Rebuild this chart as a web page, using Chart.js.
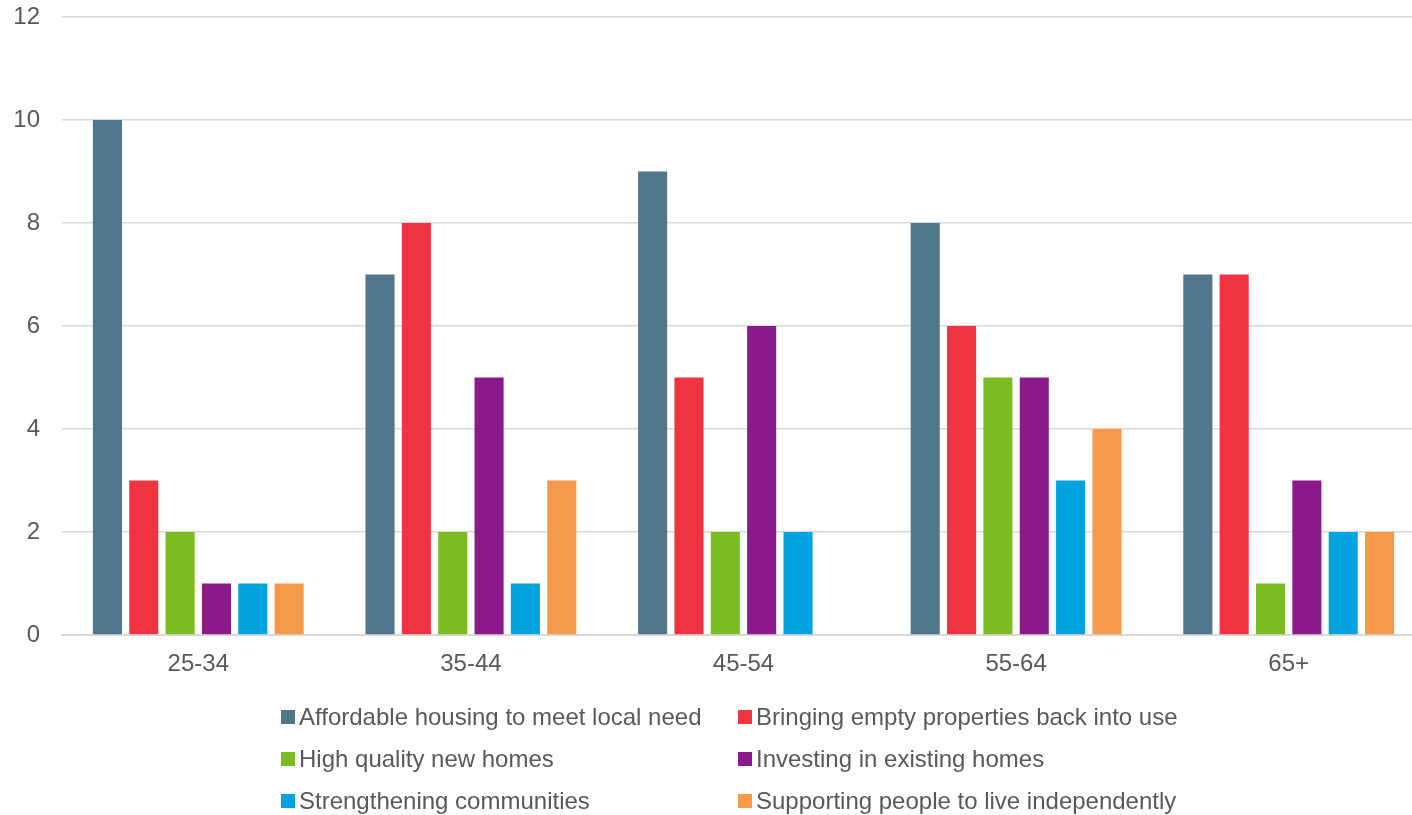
<!DOCTYPE html>
<html>
<head>
<meta charset="utf-8">
<script src="https://cdn.jsdelivr.net/npm/chart.js@4"></script>
<style>
  html, body { margin: 0; padding: 0; background: #ffffff; overflow: hidden; }
  #wrap { position: relative; width: 1412px; height: 815px; overflow: hidden; }
  #chart { position: absolute; left: 0; top: 0; }
  #legend { position: absolute; left: 0; top: 0; width: 1412px; height: 815px; pointer-events: none;
            font-family: "Liberation Sans", Arial, sans-serif; font-size: 24px; color: #595959; }
  .item { position: absolute; display: flex; align-items: center; white-space: nowrap; height: 30px; }
  .box { width: 14px; height: 14px; margin-right: 4px; }
</style>
</head>
<body>
<div id="wrap">
  <canvas id="chart" width="1425" height="815"></canvas>
  <div id="legend"></div>
</div>
<script>
const categories = ["25-34", "35-44", "45-54", "55-64", "65+"];
const seriesNames = [
  "Affordable housing to meet local need",
  "Bringing empty properties back into use",
  "High quality new homes",
  "Investing in existing homes",
  "Strengthening communities",
  "Supporting people to live independently"
];
const affordable   = [10, 7, 9, 8, 7];
const emptyProps   = [3, 8, 5, 6, 7];
const highQuality  = [2, 2, 2, 5, 1];
const investing    = [1, 5, 6, 5, 3];
const strengthening= [1, 1, 2, 3, 2];
const supporting   = [1, 3, 0, 4, 2];
const seriesValues = [affordable, emptyProps, highQuality, investing, strengthening, supporting];
const seriesColors = ["#4f768b", "#ef3340", "#7bbd21", "#8a1a8a", "#00a3e0", "#f7994a"];
const yTicks = [0, 2, 4, 6, 8, 10, 12];

const textColor = "#595959";
const fontFamily = "'Liberation Sans', Arial, sans-serif";

const datasets = seriesNames.map((name, i) => ({
  label: name,
  data: seriesValues[i],
  backgroundColor: seriesColors[i],
  borderWidth: 0,
  categoryPercentage: 0.8,
  barPercentage: 0.8
}));

new Chart(document.getElementById("chart"), {
  type: "bar",
  data: { labels: categories, datasets: datasets },
  options: {
    responsive: false,
    animation: false,
    layout: { padding: { left: 0, right: 0, top: 17, bottom: 130 } },
    plugins: { legend: { display: false }, tooltip: { enabled: false } },
    scales: {
      x: {
        grid: { display: false, drawTicks: false },
        border: { display: true, color: "#d9d9d9", width: 2 },
        ticks: { color: textColor, font: { family: fontFamily, size: 24 }, padding: 15 },
        afterFit: (s) => { s.height = 50; s.paddingLeft = 0; s.paddingRight = 0; }
      },
      y: {
        min: 0, max: 12,
        afterBuildTicks: (s) => { s.ticks = yTicks.map(v => ({ value: v })); },
        grid: { color: "#d9d9d9", lineWidth: 1.5, drawTicks: false },
        border: { display: false },
        ticks: { color: textColor, font: { family: fontFamily, size: 24 }, padding: 22 },
        afterFit: (s) => { s.width = 62; s.paddingTop = 0; s.paddingBottom = 0; }
      }
    }
  }
});

// HTML legend built from the series arrays (two aligned columns)
const legend = document.getElementById("legend");
const colX = [281, 738];
const rowY = [702, 744, 786];
seriesNames.forEach((name, i) => {
  const el = document.createElement("div");
  el.className = "item";
  el.style.left = colX[i % 2] + "px";
  el.style.top = rowY[Math.floor(i / 2)] + "px";
  const b = document.createElement("span");
  b.className = "box";
  b.style.background = seriesColors[i];
  const t = document.createElement("span");
  t.textContent = name;
  el.appendChild(b); el.appendChild(t);
  legend.appendChild(el);
});
</script>
</body>
</html>
